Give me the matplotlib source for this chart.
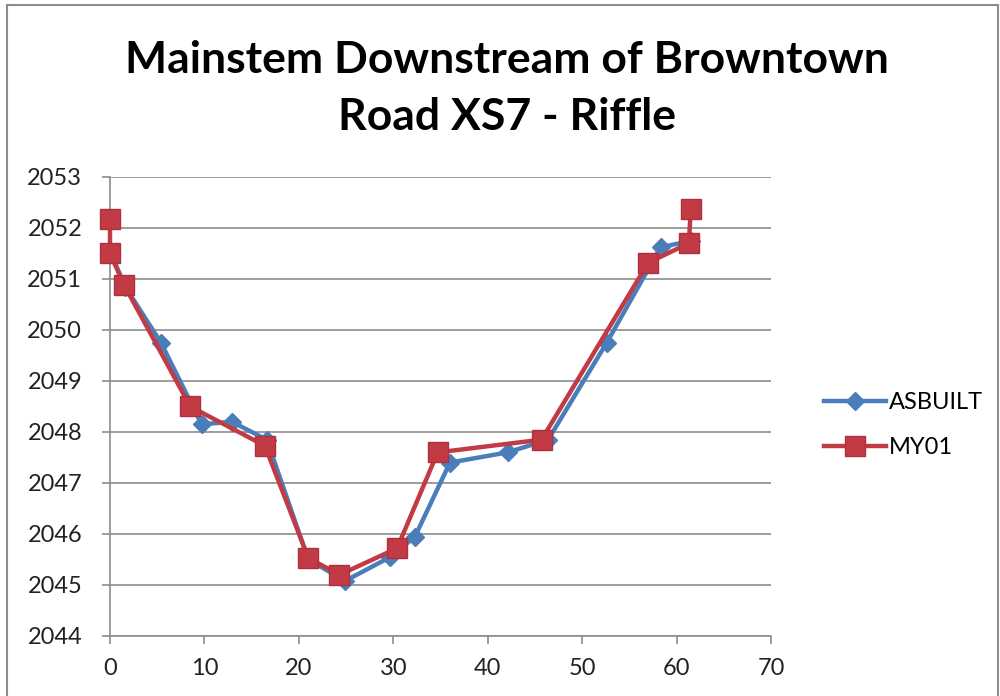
import matplotlib
matplotlib.use("Agg")
import matplotlib.pyplot as plt
from matplotlib.patches import Rectangle

title_lines = ["Mainstem Downstream of Browntown", "Road XS7 - Riffle"]

asbuilt_x = [0.0, 1.6, 5.4, 9.7, 12.9, 16.6, 21.0, 24.9, 29.7, 32.3, 36.0, 42.1, 46.4, 52.6, 58.3, 61.5]
asbuilt_y = [2051.55, 2050.85, 2049.75, 2048.15, 2048.2, 2047.85, 2045.5, 2045.08, 2045.55, 2045.95, 2047.4, 2047.6, 2047.85, 2049.75, 2051.62, 2051.75]

my01_x = [0.0, 0.0, 1.5, 8.5, 16.4, 21.0, 24.3, 30.4, 34.7, 45.7, 57.0, 61.3, 61.5]
my01_y = [2052.18, 2051.5, 2050.88, 2048.5, 2047.73, 2045.53, 2045.2, 2045.72, 2047.6, 2047.85, 2051.32, 2051.7, 2052.37]

xticks = [0, 10, 20, 30, 40, 50, 60, 70]
yticks = [2044, 2045, 2046, 2047, 2048, 2049, 2050, 2051, 2052, 2053]

FONT = ["Lato", "DejaVu Sans"]
plt.rcParams["font.family"] = FONT

W, H = 1000, 696
fig = plt.figure(figsize=(W / 100, H / 100), dpi=100)
ax = fig.add_axes([110 / W, 1 - 636 / H, (771 - 110) / W, (636 - 177) / H])

blue = "#4A7EBB"
red = "#C23B44"

ax.plot(asbuilt_x, asbuilt_y, color=blue, lw=3.2, marker="D", markersize=9,
        markerfacecolor=blue, markeredgecolor=blue, label="ASBUILT", zorder=3,
        clip_on=False)
ax.plot(my01_x, my01_y, color=red, lw=3.2, marker="s", markersize=14,
        markerfacecolor=red, markeredgecolor="#B03040", label="MY01", zorder=4,
        clip_on=False)

ax.set_xlim(0, 70)
ax.set_ylim(2044, 2053)
ax.set_xticks(xticks)
ax.set_yticks(yticks)
ax.set_xticklabels([str(v) for v in xticks])
ax.set_yticklabels([str(v) for v in yticks])
ax.yaxis.grid(True, color="#8C8C8C", lw=1.2)
ax.set_axisbelow(True)
for s in ["top", "right"]:
    ax.spines[s].set_visible(False)
for s in ["left", "bottom"]:
    ax.spines[s].set_color("#8C8C8C")
    ax.spines[s].set_linewidth(1.2)
ax.tick_params(axis="both", direction="out", length=6, color="#8C8C8C", width=1.2,
               labelsize=17, labelcolor="#222222")
ax.tick_params(axis="y", pad=14)
ax.tick_params(axis="x", pad=10)

fig.text(0.507, 1 - 60 / H, title_lines[0], ha="center", va="center", fontsize=32,
         fontweight="bold", color="black")
fig.text(0.507, 1 - 117 / H, title_lines[1], ha="center", va="center", fontsize=32,
         fontweight="bold", color="black")

leg = ax.legend(loc="center left", bbox_to_anchor=(803 / W, 1 - 425 / H),
                bbox_transform=fig.transFigure, frameon=False, fontsize=17,
                handlelength=2.6, labelspacing=1.0, handletextpad=0.15)

fig.patches.append(Rectangle((7 / W, -0.1), (998 - 7) / W, 1.1 - 5 / H,
                             transform=fig.transFigure, fill=False,
                             edgecolor="#8C8C8C", lw=1.5, clip_on=False))

fig.savefig("out.png", dpi=100, facecolor="white")
